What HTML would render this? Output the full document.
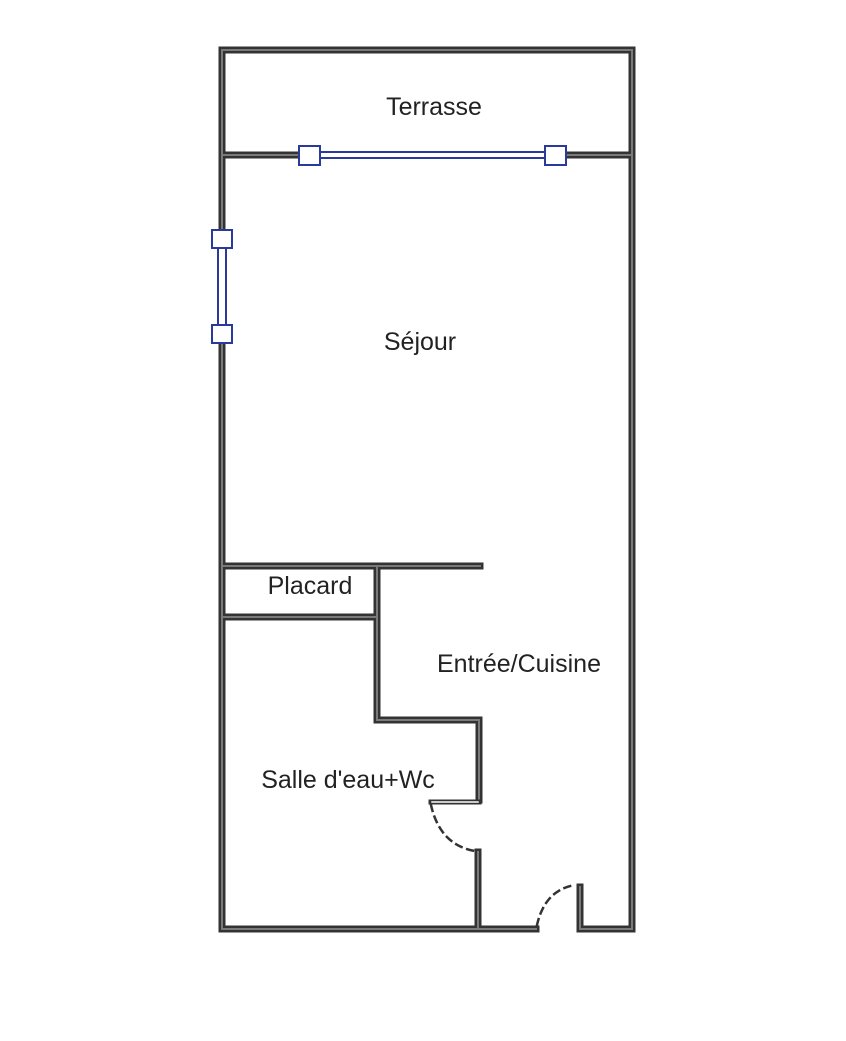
<!DOCTYPE html>
<html><head><style>
html,body{margin:0;padding:0;background:#fff;width:846px;height:1041px;overflow:hidden}
text{font-family:"Liberation Sans","DejaVu Sans",sans-serif;fill:#222;font-size:25px}
</style></head><body>
<svg width="846" height="1041" viewBox="0 0 846 1041" xmlns="http://www.w3.org/2000/svg">
<g fill="none" stroke-linecap="square">
<g stroke="#333" stroke-width="7">
<path d="M222 50 H632 V929 H580 V887"/>
<path d="M536 929 H222 V343"/>
<path d="M222 50 V230"/>
<path d="M222 155 H309 M555 155 H632"/>
<path d="M222 566 H480"/>
<path d="M222 617 H377"/>
<path d="M377 566 V720 H479 V800"/>
<path d="M478 852 V929"/>
</g>
<g stroke="#7a7a7a" stroke-width="2">
<path d="M222 50 H632 V929 H580 V887"/>
<path d="M536 929 H222 V343"/>
<path d="M222 50 V230"/>
<path d="M222 155 H309 M555 155 H632"/>
<path d="M222 566 H480"/>
<path d="M222 617 H377"/>
<path d="M377 566 V720 H479 V800"/>
<path d="M478 852 V929"/>
</g>
<path d="M431 802 H479" stroke="#333" stroke-width="5"/>
<path d="M432 802 H478" stroke="#fff" stroke-width="1.5"/>
<path d="M320 152 H544 M320 158 H544" stroke="#2a3a9a" stroke-width="2"/>
<path d="M218 248 V325 M226 248 V325" stroke="#2a3a9a" stroke-width="2"/>
<rect x="299" y="146" width="21" height="19" fill="#fff" stroke="#2a3a9a" stroke-width="2"/>
<rect x="545" y="146" width="21" height="19" fill="#fff" stroke="#2a3a9a" stroke-width="2"/>
<rect x="212" y="230" width="20" height="18" fill="#fff" stroke="#2a3a9a" stroke-width="2"/>
<rect x="212" y="325" width="20" height="18" fill="#fff" stroke="#2a3a9a" stroke-width="2"/>
<path d="M431 805 Q440 845 475 851" stroke="#333" stroke-width="2.5" stroke-dasharray="6 6"/>
<path d="M537 925 Q545 890 575 885" stroke="#333" stroke-width="2.5" stroke-dasharray="6 6"/>
</g>
<text x="434" y="115" text-anchor="middle">Terrasse</text>
<text x="420" y="350" text-anchor="middle">Séjour</text>
<text x="310" y="594" text-anchor="middle">Placard</text>
<text x="519" y="672" text-anchor="middle">Entrée/Cuisine</text>
<text x="348" y="788" text-anchor="middle">Salle d'eau+Wc</text>
</svg>
</body></html>
